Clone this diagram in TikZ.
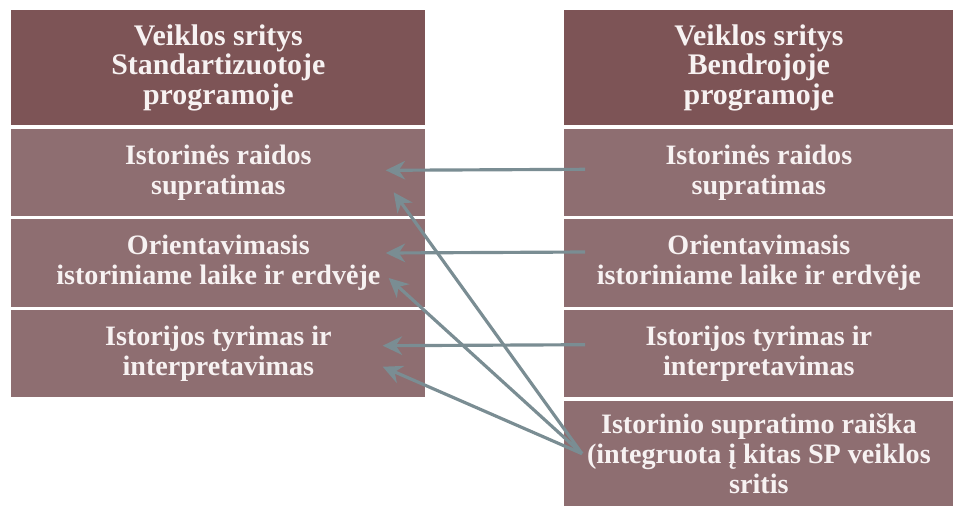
\documentclass[tikz,border=0pt]{standalone}
\usepackage{fontspec}
\setmainfont{Liberation Serif}
\usetikzlibrary{positioning, arrows.meta, calc}
\usepackage{xcolor}
\definecolor{headred}{HTML}{7D5456}
\definecolor{rowred}{HTML}{8E6E71}
\definecolor{txtwhite}{HTML}{F7F2F2}
\definecolor{arrgray}{HTML}{7A8D93}

\begin{document}
\begin{tikzpicture}[font=\fontsize{16}{17}\selectfont\bfseries,
    head/.style={fill=headred, text=txtwhite, align=center, inner sep=0pt, minimum height=2.3cm, font=\fontsize{17}{17}\selectfont\bfseries},
    area/.style={fill=rowred, text=txtwhite, align=center, inner sep=0pt, minimum height=1.75cm},
    link/.style={-{Stealth[length=11pt, width=10.5pt]}, line width=1.8pt, color=arrgray}]
    \useasboundingbox[fill=white] (0,0) rectangle (19.26,10.1);
    % left column
    \node[head, minimum width=8.28cm, anchor=north west] (lh) at (0.22,9.9) {Veiklos sritys\\Standartizuotoje\\programoje};
    \node[area, minimum width=8.28cm, below=0.05cm of lh] (l1) {Istorinės raidos\\supratimas};
    \node[area, minimum width=8.28cm, below=0.05cm of l1] (l2) {Orientavimasis\\istoriniame laike ir erdvėje};
    \node[area, minimum width=8.28cm, below=0.05cm of l2] (l3) {Istorijos tyrimas ir\\interpretavimas};
    % right column
    \node[head, minimum width=7.78cm, anchor=north west] (rh) at (11.28,9.9) {Veiklos sritys\\Bendrojoje\\programoje};
    \node[area, minimum width=7.78cm, below=0.05cm of rh] (r1) {Istorinės raidos\\supratimas};
    \node[area, minimum width=7.78cm, below=0.05cm of r1] (r2) {Orientavimasis\\istoriniame laike ir erdvėje};
    \node[area, minimum width=7.78cm, below=0.05cm of r2] (r3) {Istorijos tyrimas ir\\interpretavimas};
    \node[area, minimum width=7.78cm, minimum height=2.12cm, below=0.05cm of r3] (r4) {Istorinio supratimo raiška\\(integruota į kitas SP veiklos\\sritis};
    % arrows
    \draw[link] ($(r1.west)+(0.42,0.06)$) -- ($(l1.east)+(-0.8,0.04)$);
    \draw[link] ($(r2.west)+(0.42,0.22)$) -- ($(l2.east)+(-0.8,0.2)$);
    \draw[link] ($(r3.west)+(0.42,0.18)$) -- ($(l3.east)+(-0.86,0.16)$);
    \draw[link] ($(r4.west)+(0.36,0)$) -- ($(l1.east)+(-0.64,-0.4)$);
    \draw[link] ($(r4.west)+(0.36,0)$) -- ($(l2.east)+(-0.74,-0.3)$);
    \draw[link] ($(r4.west)+(0.36,0)$) -- ($(l3.east)+(-0.86,-0.26)$);
  \end{tikzpicture}
\end{document}
